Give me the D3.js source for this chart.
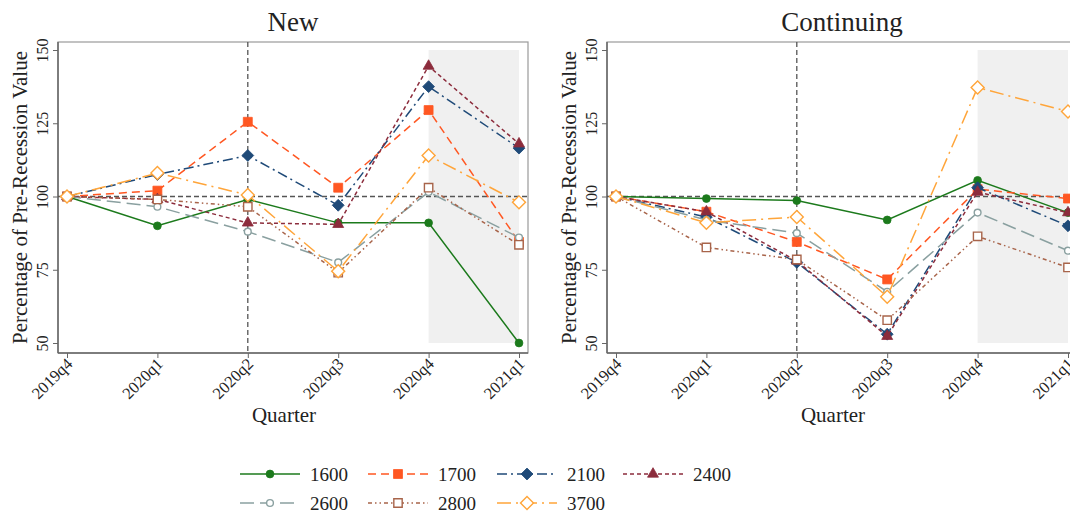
<!DOCTYPE html>
<html>
<head>
<meta charset="utf-8">
<script src="https://cdn.jsdelivr.net/npm/d3@7/dist/d3.min.js"></script>
<style>
  html, body { margin: 0; padding: 0; background: #fff; }
  svg { display: block; font-family: "Liberation Serif", "DejaVu Serif", serif; }
</style>
</head>
<body>
<svg id="chart" width="1070" height="516"></svg>
<script>
// Quarters on the x axis
const quarters = ["2019q4", "2020q1", "2020q2", "2020q3", "2020q4", "2021q1"];
const yTicks = [50, 75, 100, 125, 150];
const seriesNames = ["1600", "1700", "2100", "2400", "2600", "2800", "3700"];

// "New" panel, percentage of pre-recession value
const new1600 = [100, 90, 99, 91, 91, 50];
const new1700 = [100, 102, 125.5, 103, 129.5, 84.5];
const new2100 = [100, 107.5, 114, 97, 137.5, 116.5];
const new2400 = [100, 99, 91, 90.5, 144.5, 118];
const new2600 = [100, 96.5, 88, 77.5, 101.5, 86];
const new2800 = [100, 99, 96.5, 74, 103, 83.5];
const new3700 = [100, 108, 100.5, 74.5, 114, 98];

// "Continuing" panel
const cont1600 = [100, 99.3, 98.6, 92, 105.5, 94.5];
const cont1700 = [100, 94.8, 84.5, 71.7, 102.5, 99.3];
const cont2100 = [100, 93, 77.5, 53, 103, 90];
const cont2400 = [100, 94.8, 78, 52.3, 101.5, 94.5];
const cont2600 = [100, 92, 87.5, 67.5, 94.5, 81.5];
const cont2800 = [100, 82.6, 78.5, 57.8, 86.4, 75.8];
const cont3700 = [100, 91, 93, 65.8, 137.2, 129];

const panels = [
  { title: "New", values: [new1600, new1700, new2100, new2400, new2600, new2800, new3700], x0: 58 },
  { title: "Continuing", values: [cont1600, cont1700, cont2100, cont2400, cont2600, cont2800, cont3700], x0: 607 }
];

// Visual style of each series
const styles = [
  { color: "#1c7a1c", dash: null,              symbol: "circle",   size: 48, open: false },
  { color: "#ff5722", dash: "8,5",             symbol: "square",   size: 80, open: false },
  { color: "#1f4a78", dash: "10,4,2,4",        symbol: "diamond",  size: 70, open: false },
  { color: "#8c2c3c", dash: "4,3",             symbol: "triangle", size: 52, open: false },
  { color: "#8aa0a0", dash: "14,6",            symbol: "circle",   size: 36, open: true  },
  { color: "#a8644a", dash: "4,3,1.5,3,1.5,3", symbol: "square",   size: 70, open: true  },
  { color: "#ffa53a", dash: "14,5,2,5",        symbol: "diamond",  size: 84, open: true  }
];

const plotW = 470, plotTop = 42, plotBottom = 353;

const svg = d3.select("#chart");

function symbolPath(st) {
  const type = { circle: d3.symbolCircle, square: d3.symbolSquare,
                 diamond: d3.symbolSquare, triangle: d3.symbolTriangle }[st.symbol];
  return d3.symbol().type(type).size(st.size)();
}
function drawMarker(g, st, x, y) {
  g.append("path")
    .attr("d", symbolPath(st))
    .attr("transform", `translate(${x},${y})` + (st.symbol === "diamond" ? " rotate(45)" : ""))
    .attr("fill", st.open ? "#fff" : st.color)
    .attr("stroke", st.color)
    .attr("stroke-width", st.open ? 1.4 : 0.8);
}

const y = d3.scaleLinear().domain([50, 150]).range([343, 50]);

panels.forEach(p => {
  const g = svg.append("g");
  const x = d3.scalePoint().domain(quarters).range([p.x0 + 9, p.x0 + plotW - 9]);

  // Shaded period
  g.append("rect")
    .attr("x", x("2020q4")).attr("y", y(150))
    .attr("width", x("2021q1") - x("2020q4"))
    .attr("height", y(50) - y(150))
    .attr("fill", "#f0f0f0");

  // Plot frame
  g.append("rect")
    .attr("x", p.x0).attr("y", plotTop)
    .attr("width", plotW).attr("height", plotBottom - plotTop)
    .attr("fill", "none").attr("stroke", "#9a9a9a").attr("stroke-width", 1.2);

  // Y axis
  const yAxis = g.append("g")
    .attr("transform", `translate(${p.x0},0)`)
    .call(d3.axisLeft(y).tickValues(yTicks).tickSize(5).tickFormat(d3.format("d")));
  yAxis.select(".domain").attr("stroke", "#666").attr("stroke-width", 1.5)
    .attr("d", `M0,${plotTop}V${plotBottom}`);
  yAxis.selectAll(".tick line").attr("stroke", "#666");
  yAxis.selectAll(".tick text")
    .attr("font-family", "Liberation Serif").attr("font-size", 16).attr("fill", "#222")
    .attr("x", null).attr("dy", null)
    .attr("text-anchor", "middle")
    .attr("transform", "translate(-10,0) rotate(-90)");

  // X axis
  const xAxis = g.append("g")
    .attr("transform", `translate(0,${plotBottom})`)
    .call(d3.axisBottom(x).tickSize(5));
  xAxis.select(".domain").attr("stroke", "#666").attr("stroke-width", 1.5)
    .attr("d", `M${p.x0},0H${p.x0 + plotW}`);
  xAxis.selectAll(".tick line").attr("stroke", "#666");
  xAxis.selectAll(".tick text")
    .attr("font-family", "Liberation Serif").attr("font-size", 16.5).attr("fill", "#222")
    .attr("y", null).attr("dy", null)
    .attr("text-anchor", "end")
    .attr("transform", "translate(6,12) rotate(-45)");

  // Reference lines
  g.append("line")
    .attr("x1", p.x0).attr("x2", p.x0 + plotW)
    .attr("y1", y(100)).attr("y2", y(100))
    .attr("stroke", "#555").attr("stroke-width", 1.5).attr("stroke-dasharray", "5,3");
  g.append("line")
    .attr("x1", x("2020q2")).attr("x2", x("2020q2"))
    .attr("y1", plotTop).attr("y2", plotBottom)
    .attr("stroke", "#555").attr("stroke-width", 1.3).attr("stroke-dasharray", "5,3");

  // Series lines and markers
  const line = d3.line().x((d, i) => x(quarters[i])).y(d => y(d));
  p.values.forEach((vals, si) => {
    const st = styles[si];
    g.append("path")
      .attr("d", line(vals))
      .attr("fill", "none")
      .attr("stroke", st.color)
      .attr("stroke-width", 1.5)
      .attr("stroke-dasharray", st.dash);
    vals.forEach((v, i) => drawMarker(g, st, x(quarters[i]), y(v)));
  });

  // Titles
  const cx = p.x0 + plotW / 2;
  g.append("text").attr("x", cx).attr("y", 31)
    .attr("text-anchor", "middle").attr("font-size", 27).attr("fill", "#222")
    .text(p.title);
  g.append("text").attr("x", cx - 9).attr("y", 422)
    .attr("text-anchor", "middle").attr("font-size", 21).attr("fill", "#222")
    .text("Quarter");
  g.append("text")
    .attr("transform", `translate(${p.x0 - 31},${(plotTop + plotBottom) / 2}) rotate(-90)`)
    .attr("text-anchor", "middle").attr("font-size", 21).attr("fill", "#222")
    .text("Percentage of Pre-Recession Value");
});

// Legend
const legendCols = [240, 368, 497, 623];
const legendRows = [474, 503];
seriesNames.forEach((name, i) => {
  const st = styles[i];
  const lx = legendCols[i % 4], ly = legendRows[Math.floor(i / 4)];
  const lg = svg.append("g");
  lg.append("line")
    .attr("x1", lx).attr("x2", lx + 60).attr("y1", ly).attr("y2", ly)
    .attr("stroke", st.color).attr("stroke-width", 1.5)
    .attr("stroke-dasharray", st.dash);
  drawMarker(lg, st, lx + 30, ly);
  lg.append("text").attr("x", lx + 70).attr("y", ly + 7)
    .attr("font-size", 19).attr("fill", "#222")
    .text(name);
});
</script>
</body>
</html>
